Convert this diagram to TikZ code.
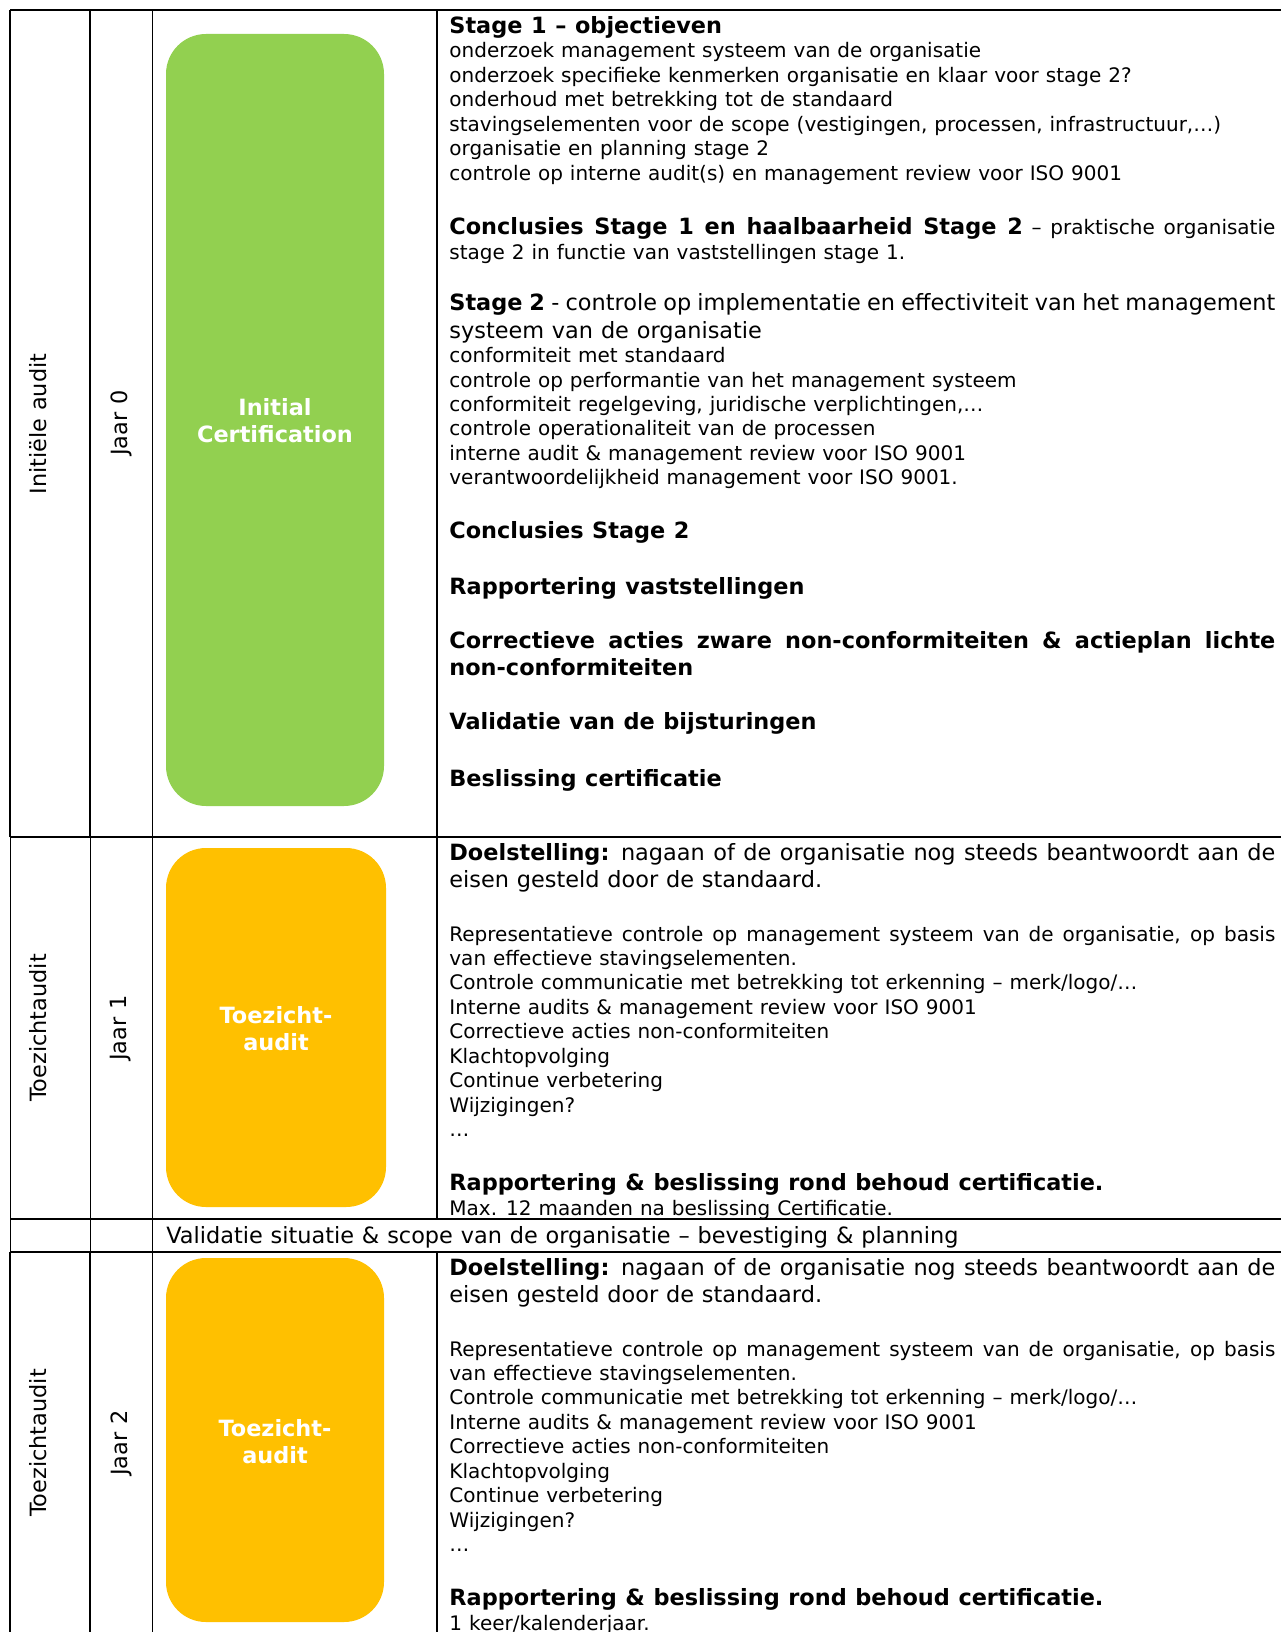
\documentclass[tikz,border=0pt]{standalone}
\usepackage{fontspec}
\setmainfont{DejaVu Sans}[WordSpace=1.1]
\definecolor{cgreen}{HTML}{92D050}
\definecolor{corange}{HTML}{FFC000}
\newcommand\nsz{\fontsize{10pt}{12.2pt}\selectfont}
\newcommand\bsz{\fontsize{11.2pt}{13.6pt}\selectfont}
\newcommand\jline[1]{\makebox[413pt][s]{#1}}
\begin{document}
\begin{tikzpicture}[x=0.5pt,y=-0.5pt,
  txt/.style={anchor=base west, inner sep=0pt, font=\nsz},
  big/.style={anchor=base west, inner sep=0pt, font=\bsz},
  heavyrule/.style={line width=1pt},
  lightrule/.style={line width=0.5pt},
  phasebox/.style={rounded corners=20pt},
  boxlabel/.style={align=center, font=\bsz\bfseries, text=white, inner sep=0pt},
  sidelabel/.style={rotate=90, font=\bsz, inner sep=0pt}]
\useasboundingbox (0,0) rectangle (1281,1632);
% colored phase boxes
\fill[cgreen, phasebox] (166,34) rectangle (384,806);
\fill[corange, phasebox] (166,848) rectangle (386,1207);
\fill[corange, phasebox] (166,1258) rectangle (384,1622);
% table rules
\draw[heavyrule] (10,10) -- (1281,10);
\draw[heavyrule] (10,837) -- (1281,837);
\draw[heavyrule] (10,1219) -- (1281,1219);
\draw[line width=0.8pt] (10,1252) -- (1281,1252);
\draw[heavyrule] (10,10) -- (10,837);
\draw[heavyrule] (90,10) -- (90,837);
\draw[heavyrule] (437,10) -- (437,837);
\draw[lightrule] (10,837) -- (10,1252);
\draw[lightrule] (90,837) -- (90,1252);
\draw[heavyrule] (10,1252) -- (10,1632);
\draw[heavyrule] (90,1252) -- (90,1632);
\draw[lightrule] (152,10) -- (152,1632);
\draw[line width=0.8pt] (437,837) -- (437,1219);
\draw[heavyrule] (437,1252) -- (437,1632);
% side labels
\node[sidelabel] (phase0) at (38,424) {Initiële audit};
\node[sidelabel] (year0) at (121,423) {Jaar 0};
\node[sidelabel] (phase1) at (38,1028) {Toezichtaudit};
\node[sidelabel] (year1) at (121,1028) {Jaar 1};
\node[sidelabel] (phase2) at (38,1443) {Toezichtaudit};
\node[sidelabel] (year2) at (121,1443) {Jaar 2};
% box labels
\node[boxlabel] (initcert) at (275,421) {Initial\\Certification};
\node[boxlabel] (toez1) at (276,1029) {Toezicht-\\audit};
\node[boxlabel] (toez2) at (275,1442) {Toezicht-\\audit};
% row 1 text
\node[big] (s1h) at (449,34) {\bfseries Stage 1 – objectieven};
\node[txt] (s1a) at (449,58) {onderzoek management systeem van de organisatie};
\node[txt] (s1b) at (449,82.4) {onderzoek specifieke kenmerken organisatie en klaar voor stage 2?};
\node[txt] (s1c) at (449,106.8) {onderhoud met betrekking tot de standaard};
\node[txt] (s1d) at (449,131.2) {stavingselementen voor de scope (vestigingen, processen, infrastructuur,…)};
\node[txt] (s1e) at (449,155.6) {organisatie en planning stage 2};
\node[txt] (s1f) at (449,180) {controle op interne audit(s) en management review voor ISO 9001};
\node[txt] (c1a) at (449,234) {\jline{{\bsz\bfseries Conclusies Stage 1 en haalbaarheid Stage 2} – praktische organisatie}};
\node[txt] (c1b) at (449,259) {stage 2 in functie van vaststellingen stage 1.};
\node[big] (s2a) at (449,310) {\jline{{\bfseries Stage 2} - controle op implementatie en effectiviteit van het management}};
\node[big] (s2b) at (449,338) {systeem van de organisatie};
\node[txt] (s2c) at (449,362) {conformiteit met standaard};
\node[txt] (s2d) at (449,387) {controle op performantie van het management systeem};
\node[txt] (s2e) at (449,411) {conformiteit regelgeving, juridische verplichtingen,…};
\node[txt] (s2f) at (449,435.5) {controle operationaliteit van de processen};
\node[txt] (s2g) at (449,460) {interne audit \& management review voor ISO 9001};
\node[txt] (s2h) at (449,484) {verantwoordelijkheid management voor ISO 9001.};
\node[big] (c2) at (449,538) {\bfseries Conclusies Stage 2};
\node[big] (rap) at (449,594) {\bfseries Rapportering vaststellingen};
\node[big] (cora) at (449,648) {\jline{\bfseries Correctieve acties zware non-conformiteiten \& actieplan lichte}};
\node[big] (corb) at (449,675) {\bfseries non-conformiteiten};
\node[big] (val) at (449,729) {\bfseries Validatie van de bijsturingen};
\node[big] (bes) at (449,786) {\bfseries Beslissing certificatie};
% middle row
\node[big] (midrow) at (166,1243) {Validatie situatie \& scope van de organisatie – bevestiging \& planning};
% surveillance rows
\foreach \off/\pre/\last in {0/ra/{Max. 12 maanden na beslissing Certificatie.}, 415/rb/{1 keer/kalenderjaar.}} {
  \node[big] (\pre doel) at (449,860+\off) {\jline{{\bfseries Doelstelling:} nagaan of de organisatie nog steeds beantwoordt aan de}};
  \node[big] (\pre eis) at (449,887+\off) {eisen gesteld door de standaard.};
  \node[txt] (\pre rep) at (449,941+\off) {\jline{Representatieve controle op management systeem van de organisatie, op basis}};
  \node[txt] (\pre eff) at (449,965+\off) {van effectieve stavingselementen.};
  \node[txt] (\pre com) at (449,989.5+\off) {Controle communicatie met betrekking tot erkenning – merk/logo/…};
  \node[txt] (\pre int) at (449,1014+\off) {Interne audits \& management review voor ISO 9001};
  \node[txt] (\pre cor) at (449,1038+\off) {Correctieve acties non-conformiteiten};
  \node[txt] (\pre kla) at (449,1063+\off) {Klachtopvolging};
  \node[txt] (\pre con) at (449,1087+\off) {Continue verbetering};
  \node[txt] (\pre wij) at (449,1112+\off) {Wijzigingen?};
  \node[txt] (\pre dots) at (449,1136+\off) {…};
  \node[big] (\pre rap) at (449,1190+\off) {\bfseries Rapportering \& beslissing rond behoud certificatie.};
  \node[txt] (\pre max) at (449,1215+\off) {\last};
}
\end{tikzpicture}
\end{document}
